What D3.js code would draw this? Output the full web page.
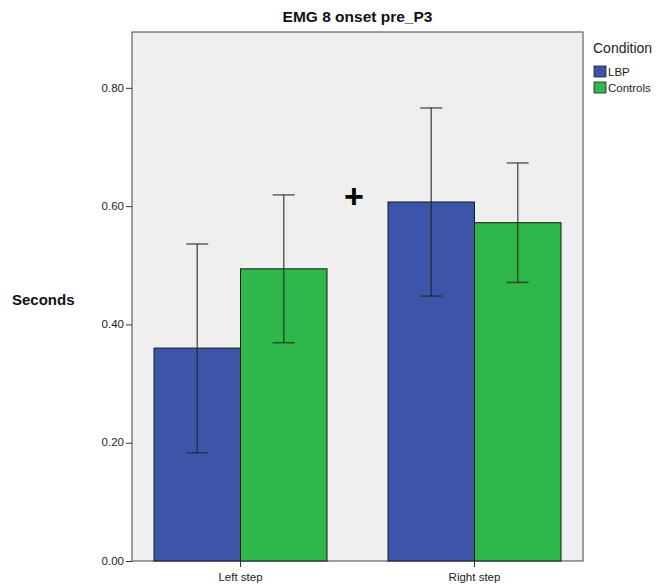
<!DOCTYPE html>
<html><head><meta charset="utf-8">
<script src="https://cdn.jsdelivr.net/npm/d3@7"></script>
<style>body{margin:0;background:#fff;}svg{display:block;font-family:Arial,"Liberation Sans",sans-serif;}</style>
</head><body>
<svg id="c" width="660" height="588"></svg>
<script>
const categories = ["Left step", "Right step"];
const seriesNames = ["LBP", "Controls"];
const seriesColors = ["#3c55a8", "#2fb84a"];
const lbpMeans = [0.360, 0.607];
const lbpLower = [0.183, 0.448];
const lbpUpper = [0.536, 0.766];
const ctrlMeans = [0.494, 0.572];
const ctrlLower = [0.369, 0.471];
const ctrlUpper = [0.619, 0.673];
const yTicks = [0, 0.2, 0.4, 0.6, 0.8];

const svg = d3.select("#c");
const L = 132, R = 583, T = 32, B = 561;
const y = d3.scaleLinear().domain([0, 0.8944]).range([B, T]);
const x0 = d3.scaleBand().domain(categories).range([L, R]).paddingInner(0.2607).paddingOuter(0.094);
const x1 = d3.scaleBand().domain(seriesNames).range([0, x0.bandwidth()]);

svg.append("rect").attr("x", L).attr("y", T).attr("width", R - L).attr("height", B - T)
  .attr("fill", "#efefef").attr("stroke", "#444").attr("stroke-width", 1);

const data = [];
categories.forEach((c, i) => {
  data.push({c, s: "LBP", m: lbpMeans[i], lo: lbpLower[i], hi: lbpUpper[i]});
  data.push({c, s: "Controls", m: ctrlMeans[i], lo: ctrlLower[i], hi: ctrlUpper[i]});
});
const col = d3.scaleOrdinal().domain(seriesNames).range(seriesColors);

svg.append("g").selectAll("rect").data(data).join("rect")
  .attr("x", d => x0(d.c) + x1(d.s))
  .attr("y", d => y(d.m))
  .attr("width", x1.bandwidth())
  .attr("height", d => y(0) - y(d.m))
  .attr("fill", d => col(d.s))
  .attr("stroke", "#1a1a1a").attr("stroke-width", 1);

const eb = svg.append("g").attr("stroke", "#222").attr("stroke-opacity", 0.7).attr("stroke-width", 1.5);
data.forEach(d => {
  const cx = x0(d.c) + x1(d.s) + x1.bandwidth() / 2;
  eb.append("line").attr("x1", cx).attr("x2", cx).attr("y1", y(d.hi)).attr("y2", y(d.lo));
  eb.append("line").attr("x1", cx - 11).attr("x2", cx + 11).attr("y1", y(d.hi)).attr("y2", y(d.hi));
  eb.append("line").attr("x1", cx - 11).attr("x2", cx + 11).attr("y1", y(d.lo)).attr("y2", y(d.lo));
});

// y axis
const ya = svg.append("g").attr("transform", `translate(${L},0)`)
  .call(d3.axisLeft(y).tickValues(yTicks).tickFormat(d3.format(".2f")).tickSize(6).tickSizeOuter(0));
ya.select(".domain").remove();
ya.selectAll("line").attr("stroke", "#333");
ya.selectAll("text").attr("font-size", 11.5).attr("fill", "#222").attr("font-family", "Arial,'Liberation Sans',sans-serif").attr("dx", 1).attr("dy", "0.28em");

// x axis
const xa = svg.append("g").attr("transform", `translate(0,${B})`)
  .call(d3.axisBottom(x0).tickSize(6).tickSizeOuter(0));
xa.select(".domain").remove();
xa.selectAll("line").attr("stroke", "#333");
xa.selectAll("text").attr("font-size", 11.5).attr("fill", "#222").attr("font-family", "Arial,'Liberation Sans',sans-serif").attr("dy", "0.95em");

svg.append("text").attr("x", (L + R) / 2).attr("y", 22).attr("text-anchor", "middle")
  .attr("font-size", 15.5).attr("font-weight", "bold").attr("fill", "#111").text("EMG 8 onset pre_P3");

svg.append("text").attr("x", 12).attr("y", 305).attr("font-size", 15).attr("font-weight", "bold")
  .attr("fill", "#111").text("Seconds");

svg.append("text").attr("x", 354).attr("y", 208).attr("text-anchor", "middle")
  .attr("font-size", 34).attr("font-weight", "bold").attr("fill", "#000").text("+");

// legend
svg.append("text").attr("x", 593).attr("y", 53).attr("font-size", 14).attr("fill", "#222").text("Condition");
seriesNames.forEach((s, i) => {
  svg.append("rect").attr("x", 594).attr("y", 66 + i * 16).attr("width", 12).attr("height", 11)
    .attr("fill", seriesColors[i]).attr("stroke", "#222").attr("stroke-width", 0.8);
  svg.append("text").attr("x", 608).attr("y", 76 + i * 16).attr("font-size", 11.5).attr("fill", "#222").text(s);
});
</script>
</body></html>
